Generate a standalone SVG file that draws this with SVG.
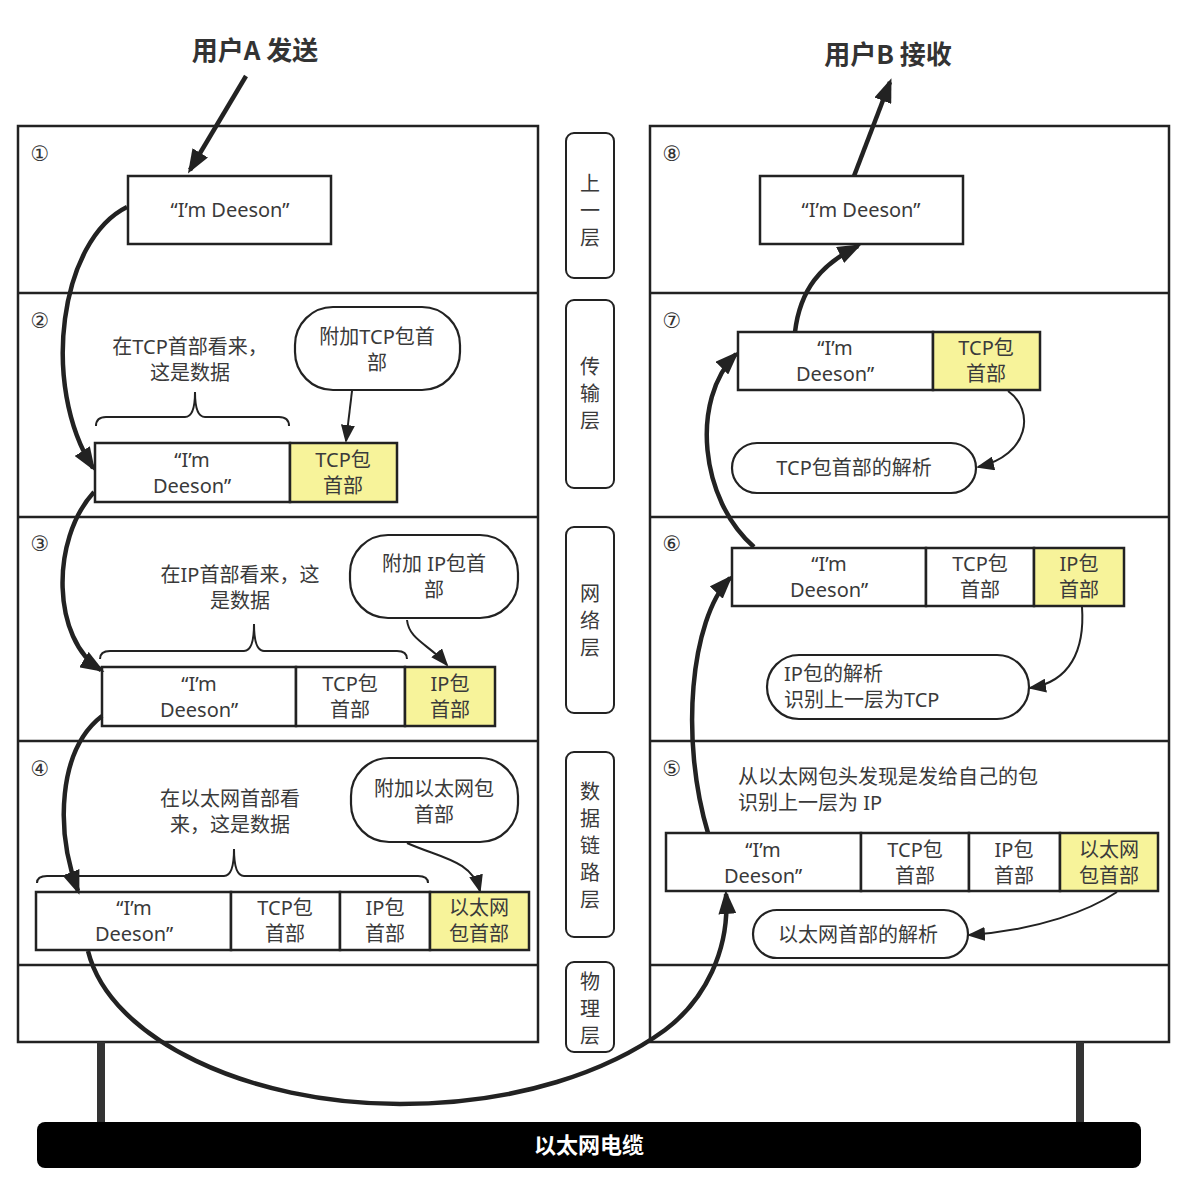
<svg xmlns="http://www.w3.org/2000/svg" width="1184" height="1186" viewBox="0 0 1184 1186">
<style>
  .panel{fill:#fff;stroke:#222;stroke-width:2.5}
  .div{stroke:#222;stroke-width:2.5}
  .cell{fill:#fff;stroke:#222;stroke-width:2.5}
  .hl{fill:#f7f39a;stroke:#222;stroke-width:2.5}
  .bub{fill:#fff;stroke:#222;stroke-width:2.2}
  .lay{fill:#fff;stroke:#222;stroke-width:2}
  .t{font-family:"Noto Sans","Noto Sans CJK SC",sans-serif;font-size:20px;fill:#3a3a3a;text-anchor:middle}
  .tl{font-family:"Noto Sans","Noto Sans CJK SC",sans-serif;font-size:20px;fill:#3a3a3a}
  .num{font-family:"DejaVu Sans","Noto Sans CJK SC",sans-serif;font-size:21px;fill:#333;text-anchor:middle}
  .title{font-family:"Noto Sans CJK SC",sans-serif;font-size:26px;font-weight:bold;fill:#333;text-anchor:middle}
  .thick{fill:none;stroke:#222;stroke-width:4.5;marker-end:url(#big)}
  .thin{fill:none;stroke:#222;stroke-width:2;marker-end:url(#small)}
  .brace{fill:none;stroke:#222;stroke-width:2}
</style>
<defs>
  <marker id="big" markerUnits="userSpaceOnUse" markerWidth="24" markerHeight="18" refX="20" refY="9" orient="auto">
    <path d="M0,0 L24,9 L0,18 Z" fill="#222"/>
  </marker>
  <marker id="small" markerUnits="userSpaceOnUse" markerWidth="18" markerHeight="14" refX="16" refY="7" orient="auto">
    <path d="M0,0 L18,7 L0,14 Z" fill="#222"/>
  </marker>
</defs>
<rect width="1184" height="1186" fill="#fff"/>

<!-- titles -->
<text class="title" x="255" y="60">用户A 发送</text>
<text class="title" x="888" y="64">用户B 接收</text>

<!-- panels -->
<g id="left-panel">
  <rect class="panel" x="18" y="126" width="520" height="916"/>
  <line class="div" x1="18" y1="293" x2="538" y2="293"/>
  <line class="div" x1="18" y1="517" x2="538" y2="517"/>
  <line class="div" x1="18" y1="741" x2="538" y2="741"/>
  <line class="div" x1="18" y1="965" x2="538" y2="965"/>
</g>
<g id="right-panel">
  <rect class="panel" x="650" y="126" width="519" height="916"/>
  <line class="div" x1="650" y1="293" x2="1169" y2="293"/>
  <line class="div" x1="650" y1="517" x2="1169" y2="517"/>
  <line class="div" x1="650" y1="741" x2="1169" y2="741"/>
  <line class="div" x1="650" y1="965" x2="1169" y2="965"/>
</g>

<!-- layer labels -->
<g id="layer-upper">
  <rect class="lay" x="566" y="133" width="48" height="145" rx="8"/>
  <text class="t" x="590" y="191">上<tspan x="590" dy="27">一</tspan><tspan x="590" dy="27">层</tspan></text>
</g>
<g id="layer-transport">
  <rect class="lay" x="566" y="300" width="48" height="188" rx="8"/>
  <text class="t" x="590" y="374">传<tspan x="590" dy="27">输</tspan><tspan x="590" dy="27">层</tspan></text>
</g>
<g id="layer-network">
  <rect class="lay" x="566" y="527" width="48" height="186" rx="8"/>
  <text class="t" x="590" y="601">网<tspan x="590" dy="27">络</tspan><tspan x="590" dy="27">层</tspan></text>
</g>
<g id="layer-datalink">
  <rect class="lay" x="566" y="752" width="48" height="185" rx="8"/>
  <text class="t" x="590" y="799">数<tspan x="590" dy="27">据</tspan><tspan x="590" dy="27">链</tspan><tspan x="590" dy="27">路</tspan><tspan x="590" dy="27">层</tspan></text>
</g>
<g id="layer-physical">
  <rect class="lay" x="566" y="962" width="48" height="90" rx="8"/>
  <text class="t" x="590" y="989">物<tspan x="590" dy="27">理</tspan><tspan x="590" dy="27">层</tspan></text>
</g>

<!-- step numbers -->
<g id="nums">
  <text class="num" x="40" y="161">①</text>
  <text class="num" x="40" y="328">②</text>
  <text class="num" x="40" y="551">③</text>
  <text class="num" x="40" y="776">④</text>
  <text class="num" x="672" y="776">⑤</text>
  <text class="num" x="672" y="551">⑥</text>
  <text class="num" x="672" y="328">⑦</text>
  <text class="num" x="672" y="161">⑧</text>
</g>

<!-- step 1 -->
<g id="n1-data">
  <rect class="cell" x="128" y="176" width="203" height="68"/>
  <text class="t" x="230" y="217">“I’m Deeson”</text>
</g>

<!-- step 2 -->
<g id="n2-note">
  <text class="t" x="190" y="354">在TCP首部看来，<tspan x="190" dy="26">这是数据</tspan></text>
  <path class="brace" d="M96,426 Q96,417 106,417 L185,417 Q195,417 195,392 Q195,417 205,417 L279,417 Q289,417 289,426"/>
</g>
<g id="n2-bubble">
  <rect class="bub" x="295" y="307" width="165" height="83" rx="38"/>
  <text class="t" x="377" y="344">附加TCP包首<tspan x="377" dy="26">部</tspan></text>
</g>
<g id="n2-packet">
  <rect class="cell" x="95" y="443" width="195" height="59"/>
  <rect class="hl" x="290" y="443" width="107" height="59"/>
  <text class="t" x="192" y="467">“I’m<tspan x="192" dy="26">Deeson”</tspan></text>
  <text class="t" x="343" y="467">TCP包<tspan x="343" dy="26">首部</tspan></text>
</g>

<!-- step 3 -->
<g id="n3-note">
  <text class="t" x="240" y="582">在IP首部看来，这<tspan x="240" dy="26">是数据</tspan></text>
  <path class="brace" d="M100,659 Q100,651 110,651 L244,651 Q254,651 254,624 Q254,651 264,651 L397,651 Q407,651 407,659"/>
</g>
<g id="n3-bubble">
  <rect class="bub" x="350" y="535" width="168" height="83" rx="38"/>
  <text class="t" x="434" y="571">附加 IP包首<tspan x="434" dy="26">部</tspan></text>
</g>
<g id="n3-packet">
  <rect class="cell" x="102" y="667" width="194" height="59"/>
  <rect class="cell" x="296" y="667" width="109" height="59"/>
  <rect class="hl" x="405" y="667" width="90" height="59"/>
  <text class="t" x="199" y="691">“I’m<tspan x="199" dy="26">Deeson”</tspan></text>
  <text class="t" x="350" y="691">TCP包<tspan x="350" dy="26">首部</tspan></text>
  <text class="t" x="450" y="691">IP包<tspan x="450" dy="26">首部</tspan></text>
</g>

<!-- step 4 -->
<g id="n4-note">
  <text class="t" x="230" y="806">在以太网首部看<tspan x="230" dy="26">来，这是数据</tspan></text>
  <path class="brace" d="M37,883 Q37,876 47,876 L224,876 Q234,876 234,849 Q234,876 244,876 L418,876 Q428,876 428,883"/>
</g>
<g id="n4-bubble">
  <rect class="bub" x="351" y="758" width="167" height="84" rx="38"/>
  <text class="t" x="434" y="796">附加以太网包<tspan x="434" dy="26">首部</tspan></text>
</g>
<g id="n4-packet">
  <rect class="cell" x="36" y="892" width="195" height="58"/>
  <rect class="cell" x="231" y="892" width="109" height="58"/>
  <rect class="cell" x="340" y="892" width="90" height="58"/>
  <rect class="hl" x="430" y="892" width="99" height="58"/>
  <text class="t" x="134" y="915">“I’m<tspan x="134" dy="26">Deeson”</tspan></text>
  <text class="t" x="285" y="915">TCP包<tspan x="285" dy="26">首部</tspan></text>
  <text class="t" x="385" y="915">IP包<tspan x="385" dy="26">首部</tspan></text>
  <text class="t" x="479" y="915">以太网<tspan x="479" dy="26">包首部</tspan></text>
</g>

<!-- step 5 -->
<g id="n5-note">
  <text class="tl" x="738" y="784">从以太网包头发现是发给自己的包<tspan x="738" dy="26">识别上一层为 IP</tspan></text>
</g>
<g id="n5-packet">
  <rect class="cell" x="666" y="833" width="195" height="58"/>
  <rect class="cell" x="861" y="833" width="108" height="58"/>
  <rect class="cell" x="969" y="833" width="91" height="58"/>
  <rect class="hl" x="1060" y="833" width="98" height="58"/>
  <text class="t" x="763" y="857">“I’m<tspan x="763" dy="26">Deeson”</tspan></text>
  <text class="t" x="915" y="857">TCP包<tspan x="915" dy="26">首部</tspan></text>
  <text class="t" x="1014" y="857">IP包<tspan x="1014" dy="26">首部</tspan></text>
  <text class="t" x="1109" y="857">以太网<tspan x="1109" dy="26">包首部</tspan></text>
</g>
<g id="n5-bubble">
  <rect class="bub" x="753" y="910" width="215" height="48" rx="24"/>
  <text class="t" x="858" y="942">以太网首部的解析</text>
</g>

<!-- step 6 -->
<g id="n6-packet">
  <rect class="cell" x="732" y="548" width="194" height="58"/>
  <rect class="cell" x="926" y="548" width="108" height="58"/>
  <rect class="hl" x="1034" y="548" width="90" height="58"/>
  <text class="t" x="829" y="571">“I’m<tspan x="829" dy="26">Deeson”</tspan></text>
  <text class="t" x="980" y="571">TCP包<tspan x="980" dy="26">首部</tspan></text>
  <text class="t" x="1079" y="571">IP包<tspan x="1079" dy="26">首部</tspan></text>
</g>
<g id="n6-bubble">
  <rect class="bub" x="767" y="655" width="262" height="64" rx="32"/>
  <text class="tl" x="784" y="681">IP包的解析<tspan x="784" dy="26">识别上一层为TCP</tspan></text>
</g>

<!-- step 7 -->
<g id="n7-packet">
  <rect class="cell" x="738" y="332" width="195" height="58"/>
  <rect class="hl" x="933" y="332" width="107" height="58"/>
  <text class="t" x="835" y="355">“I’m<tspan x="835" dy="26">Deeson”</tspan></text>
  <text class="t" x="986" y="355">TCP包<tspan x="986" dy="26">首部</tspan></text>
</g>
<g id="n7-bubble">
  <rect class="bub" x="732" y="443" width="244" height="50" rx="25"/>
  <text class="t" x="854" y="475">TCP包首部的解析</text>
</g>

<!-- step 8 -->
<g id="n8-data">
  <rect class="cell" x="760" y="176" width="203" height="68"/>
  <text class="t" x="861" y="217">“I’m Deeson”</text>
</g>

<!-- cable -->
<g id="cable">
  <rect x="97" y="1042" width="8" height="84" fill="#333"/>
  <rect x="1076" y="1042" width="8" height="84" fill="#333"/>
  <rect x="37" y="1122" width="1104" height="46" rx="8" fill="#000"/>
  <text x="589" y="1153" font-family="Noto Sans CJK SC,sans-serif" font-size="22" font-weight="bold" fill="#fff" text-anchor="middle">以太网电缆</text>
</g>

<!-- connectors -->
<g id="connectors">
  <path class="thick" d="M246,76 L190,170"/>
  <path class="thick" d="M127,207 C60,240 40,385 93,468"/>
  <path class="thick" d="M94,492 C50,540 52,640 101,670"/>
  <path class="thick" d="M102,716 C58,750 55,830 78,891"/>
  <path class="thick" d="M88,951 C110,1040 250,1104 400,1104 C520,1104 610,1070 665,1030 C705,1000 730,950 726,894"/>
  <path class="thick" d="M708,833 C680,740 690,620 730,578"/>
  <path class="thick" d="M754,547 C700,500 690,400 736,354"/>
  <path class="thick" d="M795,332 C800,290 820,265 858,246"/>
  <path class="thick" d="M854,176 L890,82"/>
  <path class="thin" d="M352,391 L346,441"/>
  <path class="thin" d="M407,620 C409,640 430,645 447,665"/>
  <path class="thin" d="M407,843 C440,858 472,860 480,891"/>
  <path class="thin" d="M1008,391 C1035,410 1030,455 978,467"/>
  <path class="thin" d="M1082,607 C1085,650 1070,682 1030,688"/>
  <path class="thin" d="M1117,892 C1090,910 1040,930 969,935"/>
</g>
</svg>
